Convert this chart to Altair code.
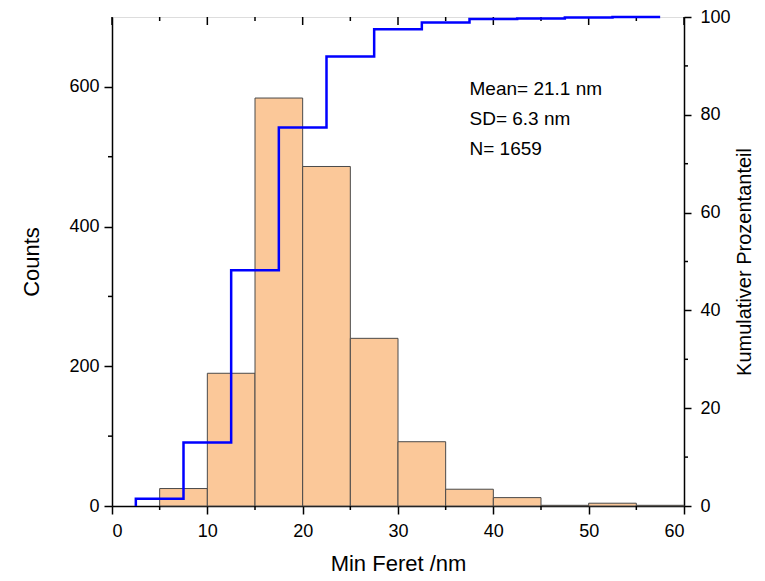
import altair as alt
import pandas as pd

# Histogram bins (Min Feret, nm) and counts
bin_start = [5, 10, 15, 20, 25, 30, 35, 40, 45, 50, 55]
bin_end = [10, 15, 20, 25, 30, 35, 40, 45, 50, 55, 60]
counts = [25, 190, 584, 486, 240, 92, 24, 12, 1, 4, 1]

# Cumulative percentage step line
cum_x = [2.5, 7.5, 12.5, 17.5, 22.5, 27.5, 32.5, 37.5, 42.5, 47.5, 52.5, 57.5]
cum_pct = [0, 1.5, 13.0, 48.2, 77.4, 91.9, 97.5, 98.9, 99.6, 99.7, 99.9, 100]

# Annotation
ann_text = ["Mean= 21.1 nm", "SD= 6.3 nm", "N= 1659"]
ann_x = [37.5, 37.5, 37.5]
ann_y = [597, 554, 511]

# Tick positions
x_minor = [5, 15, 25, 35, 45, 55]
x_major = [0, 10, 20, 30, 40, 50, 60]
y_major = [0, 200, 400, 600]
y_minor = [100, 300, 500]
p_major = [0, 20, 40, 60, 80, 100]
p_minor = [10, 30, 50, 70, 90]

W, H = 572, 489
FONT = "Liberation Sans"
LBL, TTL = 18, 22

bars_df = pd.DataFrame({"start": bin_start, "end": bin_end, "count": counts})
cum_df = pd.DataFrame({"x": cum_x, "pct": cum_pct})
ann_df = pd.DataFrame({"t": ann_text, "x": ann_x, "y": ann_y})

xscale = alt.Scale(domain=[0, 60], nice=False, zero=False)
yscale = alt.Scale(domain=[0, 700], nice=False)
pscale = alt.Scale(domain=[0, 100], nice=False)

common = dict(domainColor="black", tickColor="black", domainWidth=1.5, tickWidth=1.5,
              labelColor="black", titleColor="black", grid=False, labelFont=FONT,
              titleFont=FONT, titleFontWeight="normal", labelFontSize=LBL, titleFontSize=TTL)

x_axis = alt.Axis(title="Min Feret /nm", values=x_major, tickSize=8, labelPadding=8,
                  titlePadding=13, **common)
y_axis = alt.Axis(title="Counts", values=y_major, tickSize=8, labelPadding=5,
                  titlePadding=25, **common)
p_axis = alt.Axis(orient="right", title="Kumulativer Prozentanteil", values=p_major,
                  tickSize=7, labelPadding=9, titlePadding=24, titleAngle=270,
                  **{**common, "titleFontSize": 20})

bars = alt.Chart(bars_df).mark_rect(
    fill="#FBC899", stroke="#4a4a4a", strokeWidth=1
).encode(
    x=alt.X("start:Q", scale=xscale, axis=x_axis),
    x2="end:Q",
    y=alt.Y("count:Q", scale=yscale, axis=y_axis),
    y2=alt.datum(0),
)

xminor_df = pd.DataFrame({"x": x_minor})
xmajor_df = pd.DataFrame({"x": x_major})
yminor_df = pd.DataFrame({"y": y_minor})
pminor_df = pd.DataFrame({"p": p_minor})

bottom_minor = alt.Chart(xminor_df).mark_rule(color="black", strokeWidth=1.5).encode(
    x=alt.X("x:Q", scale=xscale, axis=x_axis), y=alt.value(H), y2=alt.value(H + 4))
top_minor = alt.Chart(xminor_df).mark_rule(color="black", strokeWidth=1.5).encode(
    x=alt.X("x:Q", scale=xscale, axis=x_axis), y=alt.value(0), y2=alt.value(4))
top_major = alt.Chart(xmajor_df).mark_rule(color="black", strokeWidth=1.5).encode(
    x=alt.X("x:Q", scale=xscale, axis=x_axis), y=alt.value(0), y2=alt.value(8))
left_minor = alt.Chart(yminor_df).mark_rule(color="black", strokeWidth=1.5).encode(
    y=alt.Y("y:Q", scale=yscale, axis=y_axis), x=alt.value(-4), x2=alt.value(0))

text = alt.Chart(ann_df).mark_text(
    align="left", baseline="middle", fontSize=19, font=FONT, color="black"
).encode(x=alt.X("x:Q", scale=xscale, axis=x_axis),
         y=alt.Y("y:Q", scale=yscale, axis=y_axis), text="t:N")

left_layer = alt.layer(bars, bottom_minor, top_minor, top_major, left_minor, text)

line = alt.Chart(cum_df).mark_line(
    color="#0000FF", strokeWidth=2.5, interpolate="step-before"
).encode(
    x=alt.X("x:Q", scale=xscale, axis=x_axis),
    y=alt.Y("pct:Q", scale=pscale, axis=p_axis),
)
right_minor = alt.Chart(pminor_df).mark_rule(color="black", strokeWidth=1.5).encode(
    y=alt.Y("p:Q", scale=pscale, axis=p_axis), x=alt.value(W), x2=alt.value(W + 4))

right_layer = alt.layer(line, right_minor)

chart = alt.layer(left_layer, right_layer).resolve_scale(y="independent").properties(
    width=W, height=H,
    autosize=alt.AutoSizeParams(type="none"),
    padding={"left": 104, "top": 9, "right": 73, "bottom": 70},
).configure_view(stroke="black", strokeWidth=1.5).configure(background="white")

chart.save("out.html", embed_options={"renderer": "svg", "actions": False})
